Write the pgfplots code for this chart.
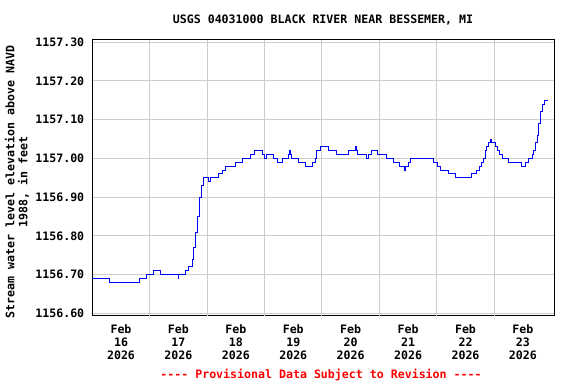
\documentclass[border=0pt]{standalone}
\usepackage{pgfplots}
\pgfplotsset{compat=1.18}
\usepackage{fontspec}
\setmainfont{DejaVu Sans Mono}[Ligatures=TeXOff]
\definecolor{usgsblue}{RGB}{0,0,255}
\definecolor{usgsred}{RGB}{255,0,0}
\definecolor{gridgray}{RGB}{204,204,204}
\begin{document}
\fontsize{11.6bp}{13bp}\selectfont\bfseries
\begin{tikzpicture}
\path[use as bounding box] (0bp,0bp) rectangle (576bp,384bp);
\begin{axis}[
  at={(92.3bp,68.3bp)}, anchor=south west,
  scale only axis, width=462.2bp, height=276.2bp,
  xmin=0, xmax=8.05, ymin=1156.594, ymax=1157.307,
  axis line style={black, line width=1.3bp},
  major tick length=0pt,
  xtick={0.5,1.5,...,7.5},
  xticklabels={{Feb\\16\\2026},{Feb\\17\\2026},{Feb\\18\\2026},{Feb\\19\\2026},{Feb\\20\\2026},{Feb\\21\\2026},{Feb\\22\\2026},{Feb\\23\\2026}},
  xticklabel style={align=center, font=\fontsize{11.6bp}{13bp}\selectfont\bfseries, yshift=-5bp},
  extra x ticks={1,2,3,4,5,6,7},
  extra x tick labels={},
  extra x tick style={grid=major, major tick length=0pt},
  ytick={1156.6,1156.7,...,1157.31},
  ymajorgrids=true,
  grid style={gridgray, line width=1bp},
  yticklabel style={font=\fontsize{11.6bp}{13bp}\selectfont\bfseries, xshift=-4bp},
  /pgf/number format/assume math mode=true,
  yticklabel={\pgfmathprintnumber[fixed,fixed zerofill,precision=2,1000 sep={}]{\tick}},
  clip=true,
]
\addplot[const plot, usgsblue, line width=1bp] coordinates {
(0.00,1156.69) (0.30,1156.68) (0.82,1156.69) (0.94,1156.70) (1.06,1156.71)
(1.18,1156.70) (1.50,1156.69) (1.51,1156.70) (1.62,1156.71) (1.68,1156.72)
(1.74,1156.74) (1.77,1156.77) (1.80,1156.81) (1.84,1156.85) (1.87,1156.90)
(1.90,1156.93) (1.93,1156.95) (2.03,1156.94) (2.05,1156.95) (2.20,1156.96)
(2.26,1156.97) (2.32,1156.98) (2.49,1156.99) (2.62,1157.00) (2.76,1157.01)
(2.82,1157.02) (2.96,1157.01) (3.00,1157.00) (3.03,1157.01) (3.15,1157.00)
(3.22,1156.99) (3.31,1157.00) (3.42,1157.01) (3.43,1157.02) (3.45,1157.01)
(3.47,1157.00) (3.59,1156.99) (3.71,1156.98) (3.84,1156.99) (3.88,1157.00)
(3.91,1157.02) (3.98,1157.03) (4.11,1157.02) (4.26,1157.01) (4.46,1157.02)
(4.58,1157.03) (4.60,1157.02) (4.62,1157.01) (4.77,1157.00) (4.81,1157.01)
(4.87,1157.02) (4.96,1157.01) (5.13,1157.00) (5.24,1156.99) (5.35,1156.98)
(5.43,1156.97) (5.45,1156.98) (5.50,1156.99) (5.55,1157.00) (5.94,1156.99)
(6.02,1156.98) (6.07,1156.97) (6.21,1156.96) (6.32,1156.95) (6.61,1156.96)
(6.70,1156.97) (6.75,1156.98) (6.78,1156.99) (6.81,1157.00) (6.84,1157.02)
(6.87,1157.03) (6.90,1157.04) (6.94,1157.05) (6.96,1157.04) (7.03,1157.03)
(7.06,1157.02) (7.09,1157.01) (7.15,1157.00) (7.25,1156.99) (7.48,1156.98)
(7.54,1156.99) (7.60,1157.00) (7.66,1157.01) (7.69,1157.02) (7.72,1157.04)
(7.75,1157.06) (7.78,1157.09) (7.81,1157.12) (7.84,1157.14) (7.87,1157.15)
(7.93,1157.15)
};
\end{axis}
\node at (323bp,364bp) {USGS 04031000 BLACK RIVER NEAR BESSEMER, MI};
\node[rotate=90, align=center] at (17bp,202bp) {Stream water level elevation above NAVD\\1988, in feet};
\node[text=usgsred] at (321bp,9bp) {---- Provisional Data Subject to Revision ----};
\end{tikzpicture}
\end{document}
